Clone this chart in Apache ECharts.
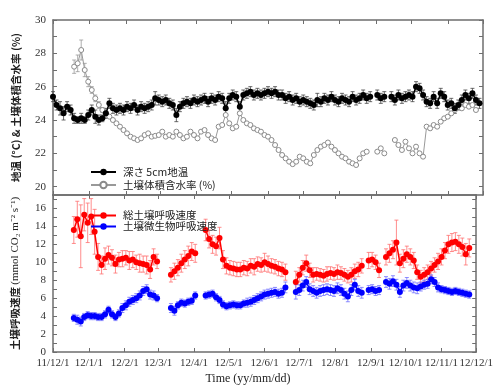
<!DOCTYPE html>
<html><head><meta charset="utf-8">
<script src="https://cdn.jsdelivr.net/npm/echarts@6/dist/echarts.min.js"></script>
<style>html,body{margin:0;padding:0;background:#fff}#c{width:496px;height:390px}</style>
</head><body><div id="c"></div>
<script>
// x positions: days since 2011-12-01, one sample every STEP days
const STEP = 3;
const monthDays = [0,31,62,91,122,152,183,213,244,275,305,336,366];
const tickLabels = ['11/12/1','12/1/1','12/2/1','12/3/1','12/4/1','12/5/1','12/6/1','12/7/1','12/8/1','12/9/1','12/10/1','12/11/1','12/12/1'];
const topTicks = [20,22,24,26,28,30];
const botTicks = [0,2,4,6,8,10,12,14,16];

const soilTemp = [25.4,24.9,24.7,24.4,24.8,24.6,24.1,24.0,24.1,24.0,24.3,24.6,24.2,24.0,24.1,24.4,25.0,24.7,24.6,24.7,24.6,24.8,24.7,24.9,24.6,24.8,24.7,24.8,24.9,25.3,25.2,25.1,25.2,25.0,24.9,24.3,24.8,25.0,25.1,25.0,25.2,25.1,25.2,25.3,25.1,25.3,25.2,25.4,25.3,24.7,25.3,25.5,25.4,24.8,25.5,25.6,25.7,25.5,25.6,25.5,25.6,25.7,25.6,25.7,25.5,25.5,25.3,25.4,25.2,25.3,25.1,25.2,25.1,25.0,24.9,25.2,25.1,25.3,25.2,25.4,25.2,25.1,25.3,25.2,25.1,25.4,25.2,25.3,25.5,25.3,25.4,null,25.5,25.3,25.4,null,25.4,25.2,25.5,25.3,25.4,25.5,25.4,26.0,25.9,25.5,25.1,25.0,25.4,25.0,25.6,25.4,24.9,25.0,24.7,24.9,25.2,25.5,25.3,25.6,25.2,25.0];
const soilTempErr = [0.3,0.3,0.4,0.4,0.3,0.3, 0.3,0.2,0.3,0.2,0.3,0.3,0.4,0.3,0.2,0.3, 0.3,0.3,0.3,0.3,0.3,0.3,0.3,0.3,0.3,0.3, 0.3,0.3,0.3,0.4,0.3,0.3,0.3,0.3,0.3,0.4, 0.3,0.3,0.3,0.3,0.3,0.3,0.3,0.3,0.3,0.3, 0.3,0.3,0.3,0.4,0.3,0.3,0.3,0.3,0.3,0.3, 0.3,0.3,0.3,0.3,0.3,0.3,0.3,0.3,0.3,0.3, 0.3,0.3,0.3,0.3,0.3,0.3,0.3,0.3,0.3,0.4, 0.3,0.3,0.3,0.3,0.3,0.3,0.3,0.3,0.3,0.3, 0.3,0.3,0.3,0.3,0.3,0.3,0.3,0.3,0.3,0.3, 0.3,0.3,0.3,0.3,0.3,0.3,0.3,0.3,0.3,0.3, 0.3,0.3,0.3,0.3,0.3,0.3,0.3,0.3,0.3,0.3, 0.3,0.3,0.3,0.3,0.3,0.3];
const soilWater = [null,null,null,null,null,null,27.2,27.4,28.2,27.0,26.3,25.8,25.3,24.9,24.6,24.4,24.2,24.0,23.8,23.6,23.4,23.2,23.0,22.9,22.8,22.9,23.1,23.2,23.0,23.05,23.1,23.3,23.0,23.1,23.0,23.3,23.1,22.9,23.0,23.3,23.1,22.9,23.3,23.4,23.1,22.9,22.8,23.6,23.7,24.3,23.8,23.5,23.6,24.4,24.0,23.8,23.7,23.5,23.4,23.3,23.1,23.0,22.8,22.5,22.2,21.9,21.7,21.5,21.35,21.5,21.8,21.7,21.5,21.4,21.9,22.2,22.4,22.5,22.65,22.4,22.2,22.0,21.8,21.7,21.5,21.4,21.3,21.7,22.0,22.1,null,null,22.1,22.3,22.0,null,null,22.8,22.5,22.2,22.7,22.3,22.0,22.4,22.0,21.8,23.6,23.5,23.7,23.6,23.9,24.1,24.2,24.4,24.6,24.8,24.7,24.9,24.8,24.9,24.6,null];
const soilWaterErr = [null,null,null,null,null,null, 0.4,0.5,0.6,0.4,0.3,0.2,0.2,0.2,0.15,0.15];
const totalResp = [null,null,null,null,null,null,13.6,14.8,12.9,15.3,14.4,15.1,13.4,10.6,9.7,10.4,10.8,10.5,9.8,10.3,10.4,10.5,10.2,10.3,10.0,9.9,9.8,9.7,9.2,10.6,10.1,null,null,null,8.6,9.0,9.4,9.9,10.3,10.7,11.2,11.0,null,null,13.6,12.6,12.0,11.8,12.7,10.3,9.6,9.4,9.3,9.2,9.2,9.4,9.3,9.6,9.5,9.8,9.7,10.0,9.8,9.6,9.5,9.3,9.2,8.9,null,null,7.8,8.6,9.4,9.9,9.1,8.6,8.7,8.6,8.5,8.7,8.8,8.7,8.9,8.8,8.6,8.4,8.6,9.0,9.2,9.6,null,10.2,10.3,10.0,9.1,null,10.6,11.0,11.4,12.2,9.9,10.4,10.9,10.6,10.2,8.9,8.4,8.6,8.9,9.3,9.7,10.1,10.6,11.3,12.0,12.2,12.3,12.0,11.7,10.9,11.6,null];
const totalRespErr = [null,null,null,null,null,null, 1.5,2.0,3.5,1.8,2.2,2.0,2.5,1.5,1.0,1.2, 1.0,0.9,1.0,0.8,0.9,0.8,1.0,0.9,0.8,1.0, 0.9,1.0,1.0,0.9,0.8,null,null,null,0.8,0.9, 0.9,1.0,1.0,1.1,1.0,1.0,null,null,1.2,1.0, 1.0,1.0,1.2,1.0,0.9,0.8,0.8,0.8,0.8,0.8, 0.8,0.8,0.9,0.8,0.8,1.0,0.9,0.8,0.8,0.8, 0.8,0.9,null,null,1.2,0.8,0.8,0.9,0.8,0.8, 0.7,0.7,0.7,0.8,0.7,0.7,0.8,0.7,0.7,0.7, 0.8,0.8,0.8,0.8,null,0.9,0.8,0.8,0.8,null, 0.9,1.0,1.0,2.5,1.0,1.0,0.9,0.9,0.9,0.8, 0.7,0.8,0.8,0.8,0.8,0.9,0.9,0.9,1.0,1.0, 1.0,1.0,1.0,1.2,1.0,null];
const microResp = [null,null,null,null,null,null,3.8,3.6,3.4,3.9,4.1,4.0,4.0,3.9,3.9,4.2,4.7,4.2,3.9,4.3,4.9,5.2,5.6,5.8,6.0,6.3,6.8,7.0,6.4,6.3,6.0,null,null,null,4.9,4.6,5.2,5.5,5.4,5.6,5.7,6.3,null,null,6.3,6.4,6.5,6.1,5.8,5.3,5.1,5.2,5.3,5.2,5.2,5.4,5.5,5.6,5.8,6.0,6.2,6.4,6.5,6.6,6.7,6.5,6.6,7.2,null,null,6.7,6.9,7.4,7.8,7.0,6.8,6.6,6.8,6.9,7.0,6.9,6.8,7.1,6.9,6.5,6.2,6.9,7.5,6.8,6.6,null,6.9,7.0,6.8,6.9,null,7.8,7.6,7.9,7.5,6.7,7.4,7.7,7.4,7.2,7.1,7.3,7.5,7.6,8.1,7.8,7.2,7.0,6.9,6.8,6.7,6.8,6.7,6.6,6.5,6.4,null];
const microRespErr = [null,null,null,null,null,null, 0.4,0.5,0.5,0.4,0.4,0.4,0.4,0.4,0.4,0.4, 0.4,0.4,0.4,0.4,0.5,0.5,0.5,0.5,0.5,0.5, 0.5,0.5,0.5,0.5,0.4,0.4,0.4,0.4,0.5,0.5, 0.4,0.4,0.4,0.4,0.4,0.4,0.4,0.4,0.4,0.4, 0.4,0.4,0.4,0.4,0.4,0.4,0.4,0.4,0.4,0.4, 0.5,0.5,0.5,0.5,0.5,0.5,0.5,0.5,0.5,0.5, 0.5,0.6,0.5,0.5,0.8,0.6,0.6,0.6,0.6,0.6, 0.6,0.6,0.6,0.6,0.6,0.6,0.6,0.6,0.6,0.6, 0.6,0.6,0.6,0.6,0.5,0.5,0.5,0.5,0.5,0.5, 0.6,0.6,0.6,0.6,0.6,0.6,0.6,0.6,0.6,0.6, 0.5,0.5,0.5,0.5,0.5,0.5,0.4,0.4,0.4,0.4, 0.4,0.4,0.4,0.4,0.4,0.4];

function pts(arr){ return arr.map((v,i)=>[i*STEP, v==null?'-':v]); }
function errPts(arr, err){
  const out=[]; arr.forEach((v,i)=>{ if(v!=null && err[i]!=null) out.push([i*STEP, v, err[i]]); }); return out;
}
function range(a,b){ const r=[]; for(let v=a; v<=b; v++) r.push(v); return r; }

const frame = {lineStyle:{color:'#6e6e6e', width:1.5}};
const serif = 'Liberation Serif, Times New Roman, serif';
const cjk = 'Noto Sans CJK JP, sans-serif';

function xAx(grid, pos, labels){
  return {type:'value', gridIndex:grid, position:pos, min:0, max:366,
    axisLine:{show:true, onZero:false, ...frame},
    axisTick:{show:true, inside:true, length:4, customValues:monthDays, lineStyle:{color:'#6e6e6e'}},
    axisLabel:{show:labels, customValues:monthDays, color:'#333', fontFamily:serif, fontSize:11, margin:6,
      formatter:(v)=>tickLabels[monthDays.indexOf(v)] || ''},
    splitLine:{show:false}};
}
function yAx(grid, pos, min, max, labels, ticks, extra){
  return Object.assign({type:'value', gridIndex:grid, position:pos, min:min, max:max,
    axisLine:{show:true, onZero:false, ...frame},
    axisTick:{show:true, inside:true, length:4, customValues:ticks, lineStyle:{color:'#6e6e6e'}},
    axisLabel:{show:pos==='left', customValues:labels, color:'#333', fontFamily:serif, fontSize:11, margin:7},
    splitLine:{show:false}}, extra||{});
}
function errSeries(xi, yi, data, color, width){
  return {type:'custom', xAxisIndex:xi, yAxisIndex:yi, data:data, z:1, silent:true,
    renderItem:function(params, api){
      const x=api.value(0), y=api.value(1), e=api.value(2);
      const t=api.coord([x, y+e]), b=api.coord([x, y-e]);
      const st={stroke:color, lineWidth:width};
      return {type:'group', children:[
        {type:'line', shape:{x1:t[0],y1:t[1],x2:b[0],y2:b[1]}, style:st},
        {type:'line', shape:{x1:t[0]-2,y1:t[1],x2:t[0]+2,y2:t[1]}, style:st},
        {type:'line', shape:{x1:b[0]-2,y1:b[1],x2:b[0]+2,y2:b[1]}, style:st}
      ]};
    }};
}

const chart = echarts.init(document.getElementById('c'));
chart.setOption({
  animation:false,
  grid:[{left:53, right:13, top:20, height:175},{left:53, right:13, top:195, height:157}],
  xAxis:[xAx(0,'bottom',false), xAx(0,'top',false), xAx(1,'bottom',true), xAx(1,'top',false)],
  yAxis:[
    yAx(0,'left',19.5,30,topTicks,range(20,30),{name:'地温 (°C) & 土壌体積含水率 (%)', nameLocation:'middle', nameGap:32, nameRotate:90, nameTextStyle:{fontFamily:cjk, fontSize:10.5, color:'#222', fontWeight:'bold'}}),
    yAx(0,'right',19.5,30,topTicks,range(20,30)),
    yAx(1,'left',0,17.5,botTicks,range(0,17),{name:'{a|土壌呼吸速度 }{b|(mmol CO₂ m⁻² s⁻¹)}', nameLocation:'middle', nameGap:32, nameRotate:90,
      nameTextStyle:{rich:{a:{fontFamily:cjk, fontSize:10.5, color:'#222', fontWeight:'bold'}, b:{fontFamily:serif, fontSize:11, color:'#222'}}}}),
    yAx(1,'right',0,17.5,botTicks,range(0,17))
  ],
  graphic:[{type:'text', left:'center', top:373, style:{text:'Time (yy/mm/dd)', font:'12px '+serif, fill:'#222'}}],
  legend:[
    {left:85, top:161, orient:'vertical', itemGap:1, itemWidth:25, itemHeight:8, data:['深さ 5cm地温','土壌体積含水率 (%)'],
      textStyle:{fontFamily:cjk, fontSize:10.5, lineHeight:12, color:'#222', padding:[0,0,0,2]}},
    {left:85, top:205, orient:'vertical', itemGap:0, itemWidth:25, itemHeight:8, data:['総土壌呼吸速度','土壌微生物呼吸速度'],
      textStyle:{fontFamily:cjk, fontSize:10.5, lineHeight:11, color:'#222', padding:[0,0,0,2]}}
  ],
  series:[
    errSeries(0,0,errPts(soilWater, soilWaterErr),'#999',0.8),
    errSeries(0,0,errPts(soilTemp, soilTempErr),'#444',0.8),
    errSeries(2,2,errPts(totalResp, totalRespErr),'#ff7070',0.8),
    errSeries(2,2,errPts(microResp, microRespErr),'#7070ff',0.8),
    {name:'土壌体積含水率 (%)', type:'line', xAxisIndex:0, yAxisIndex:0, z:2, data:pts(soilWater), symbol:'circle', symbolSize:5, showAllSymbol:true,
      lineStyle:{color:'#999', width:1}, itemStyle:{color:'#fff', borderColor:'#8a8a8a', borderWidth:1}},
    {name:'深さ 5cm地温', type:'line', xAxisIndex:0, yAxisIndex:0, z:3, data:pts(soilTemp), symbol:'circle', symbolSize:6, showAllSymbol:true,
      lineStyle:{color:'#000', width:1.5}, itemStyle:{color:'#000'}},
    {name:'総土壌呼吸速度', type:'line', xAxisIndex:2, yAxisIndex:2, z:2, data:pts(totalResp), symbol:'circle', symbolSize:6, showAllSymbol:true,
      lineStyle:{color:'#ff0000', width:1.5}, itemStyle:{color:'#ff0000'}},
    {name:'土壌微生物呼吸速度', type:'line', xAxisIndex:2, yAxisIndex:2, z:3, data:pts(microResp), symbol:'circle', symbolSize:6, showAllSymbol:true,
      lineStyle:{color:'#0000ff', width:1.5}, itemStyle:{color:'#0000ff'}}
  ]
});
</script></body></html>
